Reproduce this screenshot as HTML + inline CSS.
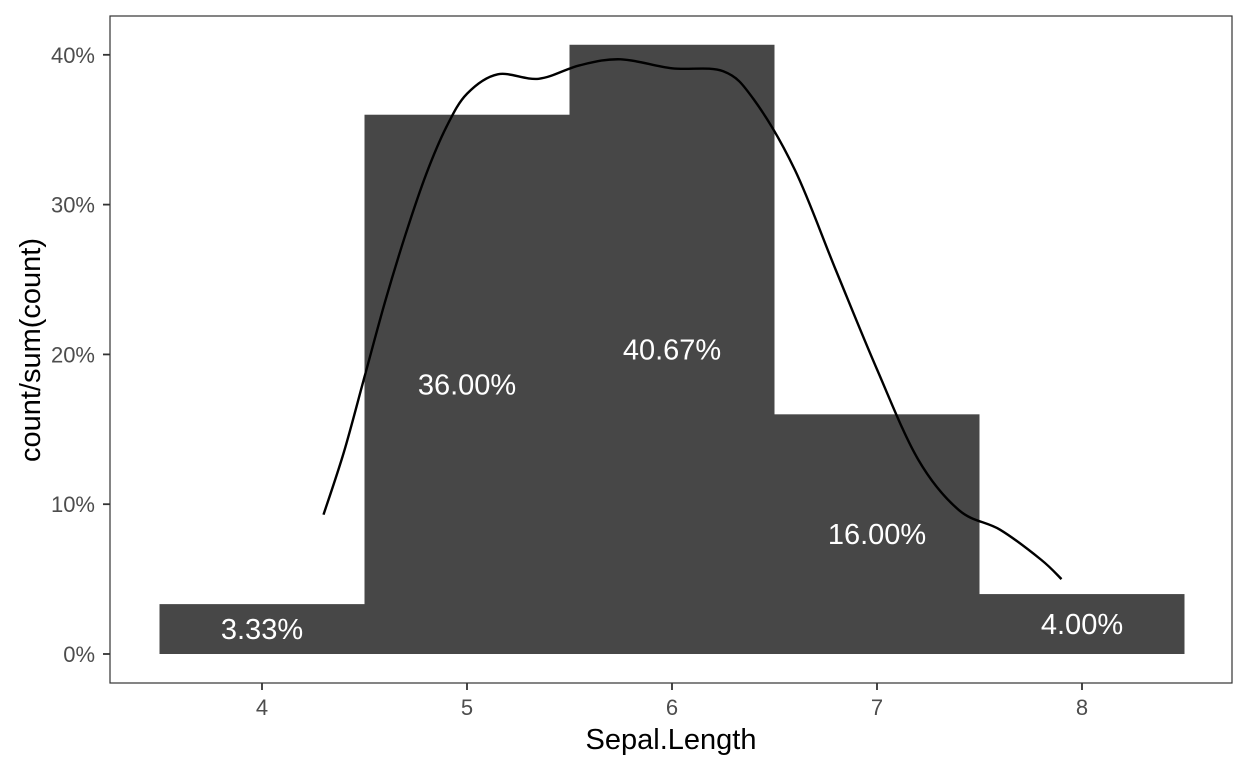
<!DOCTYPE html>
<html><head><meta charset="utf-8"><style>
body{margin:0;background:#fff}
svg{display:block;font-family:"Liberation Sans",Arial,sans-serif}
</style></head><body>
<svg id="chart" width="1248" height="768">
<rect x="110" y="16" width="1122" height="667" fill="#fff" stroke="#333" stroke-width="1.2"/>
<g id="bars"></g><g id="labels"></g><g id="axes"></g>
<path id="density" fill="none" stroke="#000" stroke-width="2.4"/>
<text x="671" y="749" font-size="29" text-anchor="middle" fill="#000">Sepal.Length</text>
<text transform="translate(40,350) rotate(-90)" font-size="29" text-anchor="middle" fill="#000">count/sum(count)</text>
</svg>
<script>
const binCenters=[4,5,6,7,8];
const binPct=[3.33,36.00,40.67,16.00,4.00];
const binLabels=["3.33%","36.00%","40.67%","16.00%","4.00%"];
const xTicks=[4,5,6,7,8];
const yTicks=[0,10,20,30,40];
const yTickLabels=["0%","10%","20%","30%","40%"];
const densX=[4.3,4.4,4.5,4.6,4.7,4.8,4.9,5.0,5.15,5.35,5.55,5.75,6.0,6.25,6.4,6.6,6.8,7.0,7.2,7.4,7.6,7.8,7.9];
const densY=[9.3,13.5,18.5,23.5,28,32,35.2,37.4,38.7,38.4,39.3,39.7,39.1,38.9,37,32.3,25.6,19,13,9.6,8.3,6.3,5];
const X=v=>262+(v-4)*205;
const Y=p=>654-p*14.98;
const NS="http://www.w3.org/2000/svg";
function mk(t,a,parent){const e=document.createElementNS(NS,t);for(const k in a)e.setAttribute(k,a[k]);parent.appendChild(e);return e;}
const gb=document.getElementById('bars'),gl=document.getElementById('labels'),ga=document.getElementById('axes');
binCenters.forEach((c,i)=>{
 const r=mk('rect',{x:X(c-0.5),y:Y(binPct[i]),width:X(c+0.5)-X(c-0.5),height:Y(0)-Y(binPct[i]),fill:'#474747'},gb);
 
 
 const t=mk('text',{x:X(c),y:Y(binPct[i]/2)+10,'font-size':29,'text-anchor':'middle',fill:'#fff'},gl);
 t.textContent=binLabels[i];
 
 
});
xTicks.forEach(v=>{
 mk('line',{x1:X(v),x2:X(v),y1:683,y2:690,stroke:'#333','stroke-width':1.8},ga);
 const t=mk('text',{x:X(v),y:715,'font-size':22,'text-anchor':'middle',fill:'#4d4d4d'},ga);
 t.textContent=v;
 
 
});
yTicks.forEach((v,i)=>{
 mk('line',{x1:103,x2:110,y1:Y(v),y2:Y(v),stroke:'#333','stroke-width':1.8},ga);
 const t=mk('text',{x:95,y:Y(v)+8,'font-size':22,'text-anchor':'end',fill:'#4d4d4d'},ga);
 t.textContent=yTickLabels[i];
 
 
});
const P=densX.map((x,i)=>[X(x),Y(densY[i])]);
let d='M'+P[0][0]+','+P[0][1];
for(let i=0;i<P.length-1;i++){
 const p0=P[Math.max(i-1,0)],p1=P[i],p2=P[i+1],p3=P[Math.min(i+2,P.length-1)];
 d+=' C'+(p1[0]+(p2[0]-p0[0])/6)+','+(p1[1]+(p2[1]-p0[1])/6)+' '+(p2[0]-(p3[0]-p1[0])/6)+','+(p2[1]-(p3[1]-p1[1])/6)+' '+p2[0]+','+p2[1];
}
document.getElementById('density').setAttribute('d',d);
</script>
</body></html>
